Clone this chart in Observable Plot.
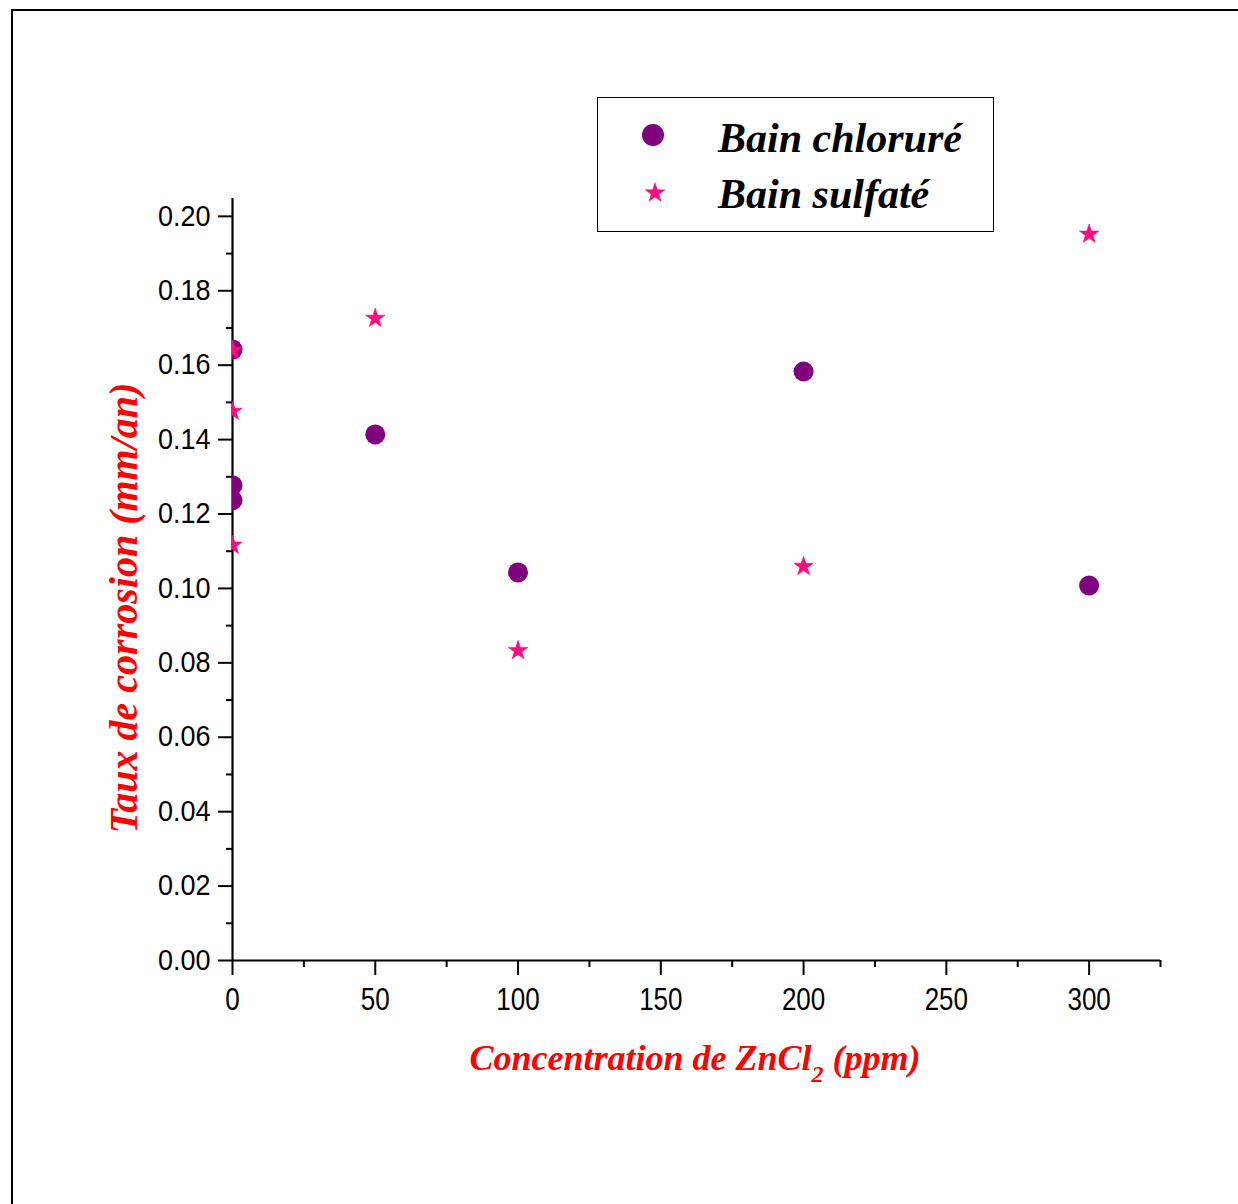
<!DOCTYPE html>
<html>
<head>
<meta charset="utf-8">
<script src="https://cdn.jsdelivr.net/npm/d3@7"></script>
<script src="https://cdn.jsdelivr.net/npm/@observablehq/plot@0.6"></script>
<style>
  html, body { margin: 0; padding: 0; background: #fff; }
  #wrap { position: relative; width: 1238px; height: 1204px; overflow: hidden; }
  #frame { position: absolute; left: 11px; top: 9px; width: 1240px; height: 1210px;
           border-left: 2px solid #000; border-top: 2px solid #000; box-sizing: border-box; }
  .lab { position: absolute; font-family: "Liberation Serif", "Times New Roman", serif;
         font-weight: bold; font-style: italic; color: #ff0000; font-size: 36px; white-space: nowrap; line-height: 1; }
  #ylab { left: 124px; top: 608px; font-size: 40px; transform: translate(-50%, -50%) rotate(-90deg); }
  #xlab { left: 695px; top: 1040px; transform: translateX(-50%); }
  #xlab sub { font-size: 24px; vertical-align: -12px; line-height: 0; }
  #legend { position: absolute; left: 597px; top: 97px; width: 397px; height: 135px;
            border: 1.5px solid #000; box-sizing: border-box; background: #fff; }
  .leg { position: absolute; left: 120px; font-family: "Liberation Serif", "Times New Roman", serif;
         font-weight: bold; font-style: italic; font-size: 42px; color: #000; white-space: nowrap; line-height: 1; }
  .sym { position: absolute; }
  svg text { font-family: "Liberation Sans", Arial, sans-serif; }
</style>
</head>
<body>
<div id="wrap">
  <div id="plot"></div>
  <div id="frame"></div>
  <div class="lab" id="ylab">Taux de corrosion (mm/an)</div>
  <div class="lab" id="xlab">Concentration de ZnCl<sub>2</sub> (ppm)</div>
  <div id="legend"></div>
</div>
<script>
// Data
const chlorureX = [0, 0, 0, 50, 100, 200, 300];
const chlorureY = [0.1642, 0.1277, 0.1237, 0.1414, 0.1043, 0.1583, 0.1008];
const sulfateX  = [0, 0, 0, 50, 100, 200, 300];
const sulfateY  = [0.1640, 0.1476, 0.1116, 0.1726, 0.0833, 0.1059, 0.1952];
const seriesNames = ["Bain chloruré", "Bain sulfaté"];
const xTicks = [0, 50, 100, 150, 200, 250, 300];
const xMinorTicks = [25, 75, 125, 175, 225, 275, 325];
const yTicks = [0, 0.02, 0.04, 0.06, 0.08, 0.10, 0.12, 0.14, 0.16, 0.18, 0.20];
const yMinorTicks = [0.01, 0.03, 0.05, 0.07, 0.09, 0.11, 0.13, 0.15, 0.17, 0.19];

const purple = "#800080";
const pink = "#ff0a80";

const chlorure = chlorureX.map((x, i) => ({x, y: chlorureY[i]}));
const sulfate = sulfateX.map((x, i) => ({x, y: sulfateY[i]}));

const plot = Plot.plot({
  width: 1238,
  height: 1204,
  marginLeft: 232,
  marginRight: 78,
  marginTop: 198,
  marginBottom: 244,
  x: {domain: [0, 325]},
  y: {domain: [0, 0.2048]},
  style: {fontFamily: "Liberation Sans, Arial, sans-serif", background: "transparent"},
  marks: [
    Plot.axisY({ticks: yTicks, tickSize: 14, tickPadding: 8, tickFormat: d3.format(".2f"),
                fontSize: 27, label: null, strokeWidth: 2}),
    Plot.axisY({ticks: yMinorTicks, tickSize: 6, tickFormat: () => "", label: null, strokeWidth: 2}),
    Plot.axisX({ticks: xTicks, tickSize: 15, tickPadding: 12, tickFormat: d => String(d),
                fontSize: 26, label: null, strokeWidth: 2}),
    Plot.axisX({ticks: xMinorTicks, tickSize: 7, tickFormat: () => "", label: null, strokeWidth: 2}),
    Plot.ruleX([0], {stroke: "#000", strokeWidth: 2.2}),
    Plot.ruleY([0], {stroke: "#000", strokeWidth: 2.2}),
    Plot.dot(chlorure, {x: "x", y: "y", r: 10, fill: purple, stroke: "none", clip: true}),
    Plot.dot(sulfate, {x: "x", y: "y", r: 6.1, symbol: "star", fill: pink, stroke: pink, strokeWidth: 0.6, clip: true})
  ]
});
document.getElementById("plot").appendChild(plot);

// stretch tick labels vertically (the reference font is tall and narrow)
d3.select(plot).selectAll('g[aria-label="x-axis tick label"] text')
  .attr("transform", function() { return (this.getAttribute("transform") || "") + " scale(1,1.23)"; });
d3.select(plot).selectAll('g[aria-label="y-axis tick label"] text')
  .attr("transform", function() { return (this.getAttribute("transform") || "") + " scale(1,1.06)"; });

// Legend
const legend = document.getElementById("legend");
const symbols = [
  {name: seriesNames[0], top: 36, html: `<svg width="26" height="26"><circle cx="13" cy="13" r="11" fill="${purple}"/></svg>`, sx: 42, sy: 24},
  {name: seriesNames[1], top: 92, html: `<svg width="24" height="24"><path transform="translate(12,12)" d="${d3.symbol(d3.symbolStar, Math.PI * 6.1 * 6.1)()}" fill="${pink}" stroke="${pink}" stroke-width="0.6"/></svg>`, sx: 45, sy: 83}
];
for (const s of symbols) {
  const sym = document.createElement("div");
  sym.className = "sym";
  sym.style.left = s.sx + "px";
  sym.style.top = s.sy + "px";
  sym.innerHTML = s.html;
  legend.appendChild(sym);
  const t = document.createElement("div");
  t.className = "leg";
  t.style.top = (s.top - 17) + "px";
  t.textContent = s.name;
  legend.appendChild(t);
}
</script>
</body>
</html>
